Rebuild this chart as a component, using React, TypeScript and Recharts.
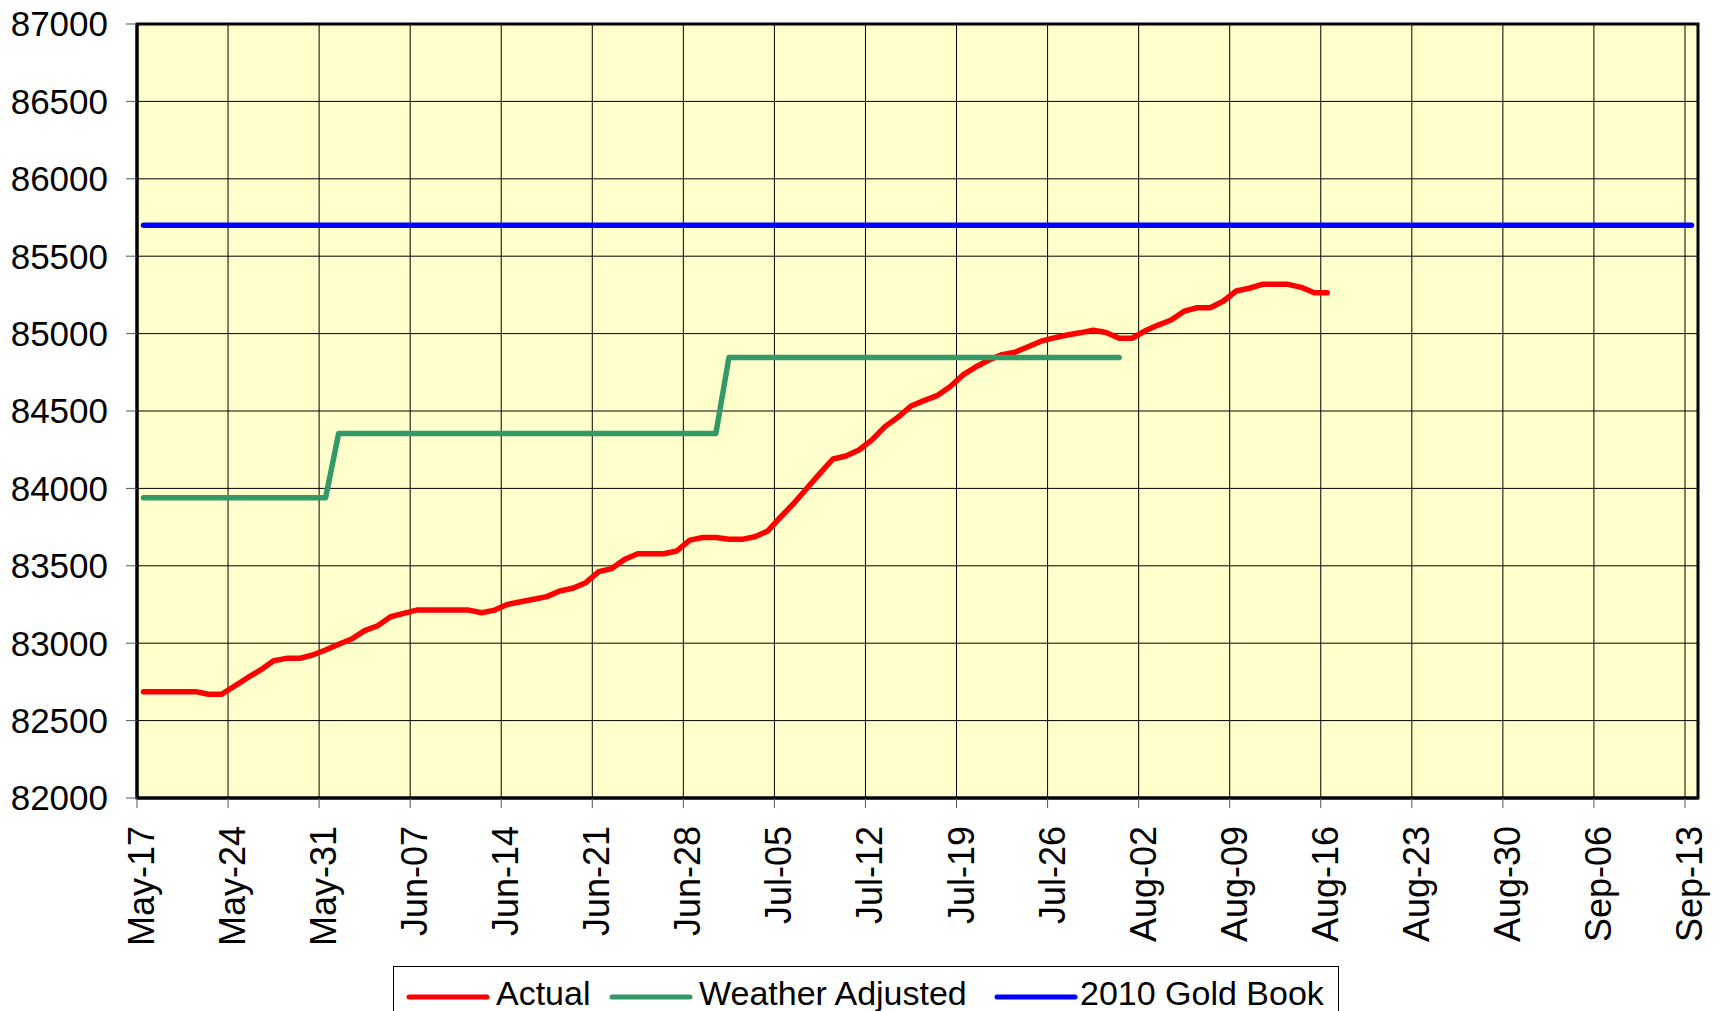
import { LineChart, Line, XAxis, YAxis, CartesianGrid, Legend, ReferenceArea } from "recharts";

// Days counted from May-17 (2010). Each point sits in the middle of its day,
// the way Excel draws a date axis "between tick marks".
const START = Date.UTC(2010, 4, 17);
const MONTHS = ["Jan", "Feb", "Mar", "Apr", "May", "Jun", "Jul", "Aug", "Sep", "Oct", "Nov", "Dec"];

const actualDays = Array.from({ length: 92 }, (_, i) => i);
const actualValues = [
  82687, 82687, 82687, 82687, 82687, 82670, 82670, 82723, 82777, 82827,
  82887, 82902, 82902, 82924, 82956, 82993, 83027, 83081, 83113, 83171,
  83193, 83214, 83214, 83214, 83214, 83214, 83197, 83214, 83251, 83268,
  83284, 83301, 83337, 83355, 83391, 83462, 83482, 83542, 83578, 83578,
  83578, 83596, 83666, 83683, 83683, 83671, 83671, 83688, 83725, 83817,
  83904, 84001, 84097, 84190, 84209, 84248, 84313, 84399, 84459, 84532,
  84567, 84599, 84657, 84733, 84786, 84829, 84864, 84880, 84915, 84951,
  84972, 84991, 85005, 85022, 85007, 84970, 84970, 85018, 85055, 85088,
  85145, 85167, 85167, 85209, 85275, 85293, 85318, 85318, 85318, 85299,
  85264, 85264,
];

// weather adjusted forecast only changes at two dates, so only the corners are kept
const weatherDays = [0, 14, 15, 44, 45, 75];
const weatherValues = [83940, 83940, 84355, 84355, 84845, 84845];

const goldBookDays = [0, 119];
const goldBookValues = [85700, 85700];

const xTicks = [0, 7, 14, 21, 28, 35, 42, 49, 56, 63, 70, 77, 84, 91, 98, 105, 112, 119];
const yTicks = [82000, 82500, 83000, 83500, 84000, 84500, 85000, 85500, 86000, 86500, 87000];

const FONT = "'Liberation Sans', Arial, sans-serif";

const toRows = (days: number[], values: number[]) =>
  days.map((d, i) => ({ x: d + 0.5, y: values[i] }));

const series = [
  { name: "Actual", color: "#FF0000", data: toRows(actualDays, actualValues), legendX: 15, textX: 102 },
  { name: "Weather Adjusted", color: "#339966", data: toRows(weatherDays, weatherValues), legendX: 218, textX: 305 },
  { name: "2010 Gold Book", color: "#0000FF", data: toRows(goldBookDays, goldBookValues), legendX: 603, textX: 686 },
];

function formatDay(day: number) {
  const d = new Date(START + day * 86400000);
  const dd = String(d.getUTCDate()).padStart(2, "0");
  return `${MONTHS[d.getUTCMonth()]}-${dd}`;
}

function DateTick({ x, y, payload }: any) {
  return (
    <text
      x={0}
      y={0}
      transform={`translate(${x + 17},${y + 16}) rotate(-90)`}
      textAnchor="end"
      fontSize={36}
      fontFamily={FONT}
      fill="#000"
    >
      {formatDay(payload.value)}
    </text>
  );
}

function LegendBox() {
  return (
    <div
      style={{
        width: 946,
        height: 45,
        boxSizing: "border-box",
        border: "1.5px solid #000",
        borderBottom: "none",
        background: "#fff",
      }}
    >
      <svg width={943} height={44} style={{ display: "block" }}>
        {series.map((s) => (
          <g key={s.name}>
            <line
              x1={s.legendX}
              x2={s.legendX + 78}
              y1={30}
              y2={30}
              stroke={s.color}
              strokeWidth={5}
              strokeLinecap="round"
            />
            <text x={s.textX} y={38} fontSize={34} fontFamily={FONT} fill="#000">
              {s.name}
            </text>
          </g>
        ))}
      </svg>
    </div>
  );
}

export default function App() {
  return (
    <div style={{ position: "absolute", left: 0, top: 0, background: "#fff" }}>
      <LineChart width={1721} height={1011} margin={{ top: 24, right: 23, left: 0, bottom: 0 }}>
        <CartesianGrid stroke="#000" strokeWidth={1} fill="#FFFFCC" fillOpacity={1} />
        <XAxis
          type="number"
          dataKey="x"
          domain={[0, 120]}
          ticks={xTicks}
          interval={0}
          allowDataOverflow
          height={168}
          tickSize={10}
          tickLine={{ stroke: "#555" }}
          axisLine={{ stroke: "#000", strokeWidth: 3 }}
          tick={<DateTick />}
        />
        <YAxis
          type="number"
          domain={[82000, 87000]}
          ticks={yTicks}
          interval={0}
          width={137}
          tickSize={11}
          tickMargin={18}
          tickLine={{ stroke: "#555" }}
          axisLine={{ stroke: "#000", strokeWidth: 3 }}
          tick={{ fontSize: 35, fill: "#000", fontFamily: FONT }}
        />
        <ReferenceArea
          x1={0}
          x2={120}
          y1={82000}
          y2={87000}
          fill="none"
          stroke="#000"
          strokeWidth={3}
          ifOverflow="visible"
        />
        {series.map((s) => (
          <Line
            key={s.name}
            data={s.data}
            dataKey="y"
            name={s.name}
            type="linear"
            stroke={s.color}
            strokeWidth={5.5}
            strokeLinecap="round"
            strokeLinejoin="round"
            dot={false}
            activeDot={false}
            isAnimationActive={false}
          />
        ))}
        <Legend
          verticalAlign="bottom"
          height={45}
          content={<LegendBox />}
          wrapperStyle={{ left: 393, top: 966, width: 946, height: 45 }}
        />
      </LineChart>
    </div>
  );
}
